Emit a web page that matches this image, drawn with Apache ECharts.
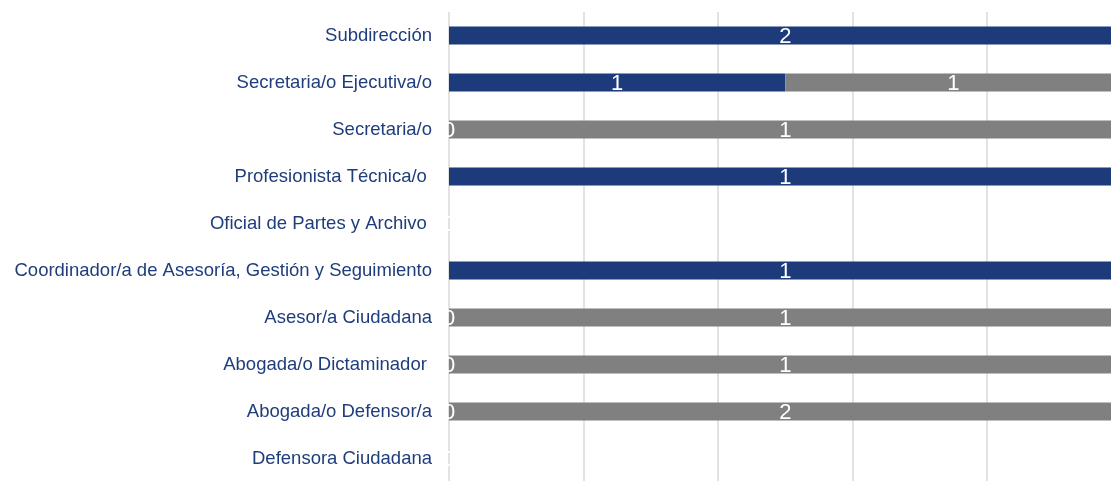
<!DOCTYPE html>
<html>
<head>
<meta charset="utf-8">
<script src="https://cdn.jsdelivr.net/npm/echarts@6/dist/echarts.min.js"></script>
<style>
html,body{margin:0;padding:0;background:#fff;}
#chart{width:1111px;height:481px;}
</style>
</head>
<body>
<div id="chart"></div>
<script>
const categories = [
  "Subdirección",
  "Secretaria/o Ejecutiva/o",
  "Secretaria/o",
  "Profesionista Técnica/o ",
  "Oficial de Partes y Archivo ",
  "Coordinador/a de Asesoría, Gestión y Seguimiento",
  "Asesor/a Ciudadana",
  "Abogada/o Dictaminador ",
  "Abogada/o Defensor/a",
  "Defensora Ciudadana"
];
const serieAzul = [2, 1, 0, 1, 0, 1, 0, 0, 0, 0];
const serieGris = [0, 1, 1, 0, 0, 0, 1, 1, 2, 0];
const xTicks = [0, 20, 40, 60, 80, 100];

function share(a, b) {
  return a.map((v, i) => {
    const t = a[i] + b[i];
    return { value: t ? v / t * 100 : 0, raw: v };
  });
}

const labelStyle = {
  show: true,
  position: 'inside',
  offset: [0, 1],
  color: '#ffffff',
  fontSize: 22,
  fontFamily: 'Liberation Sans, Arial, sans-serif',
  formatter: p => String(p.data.raw)
};

const chart = echarts.init(document.getElementById('chart'), null, {renderer: 'canvas'});
chart.setOption({
  animation: false,
  backgroundColor: '#ffffff',
  grid: { left: 449, width: 672.5, top: 12, height: 470, containLabel: false, outerBoundsMode: 'none' },
  xAxis: {
    type: 'value',
    min: xTicks[0],
    max: xTicks[xTicks.length - 1],
    interval: xTicks[1] - xTicks[0],
    axisLabel: { show: false },
    axisLine: { show: false },
    axisTick: { show: false },
    splitLine: { show: true, lineStyle: { color: '#d9d9d9', width: 1.5 } }
  },
  yAxis: {
    type: 'category',
    inverse: true,
    data: categories,
    axisLine: { show: false },
    axisTick: { show: false },
    axisLabel: {
      color: '#1f3d7c',
      fontSize: 18.5,
      fontFamily: 'Liberation Sans, Arial, sans-serif',
      margin: 17
    }
  },
  series: [
    {
      name: 'Serie 1',
      type: 'bar',
      stack: 'total',
      barWidth: 18,
      data: share(serieAzul, serieGris),
      itemStyle: { color: '#1d3b7b' },
      label: labelStyle
    },
    {
      name: 'Serie 2',
      type: 'bar',
      stack: 'total',
      barWidth: 18,
      data: share(serieGris, serieAzul),
      itemStyle: { color: '#808080' },
      label: labelStyle
    }
  ]
});
</script>
</body>
</html>
